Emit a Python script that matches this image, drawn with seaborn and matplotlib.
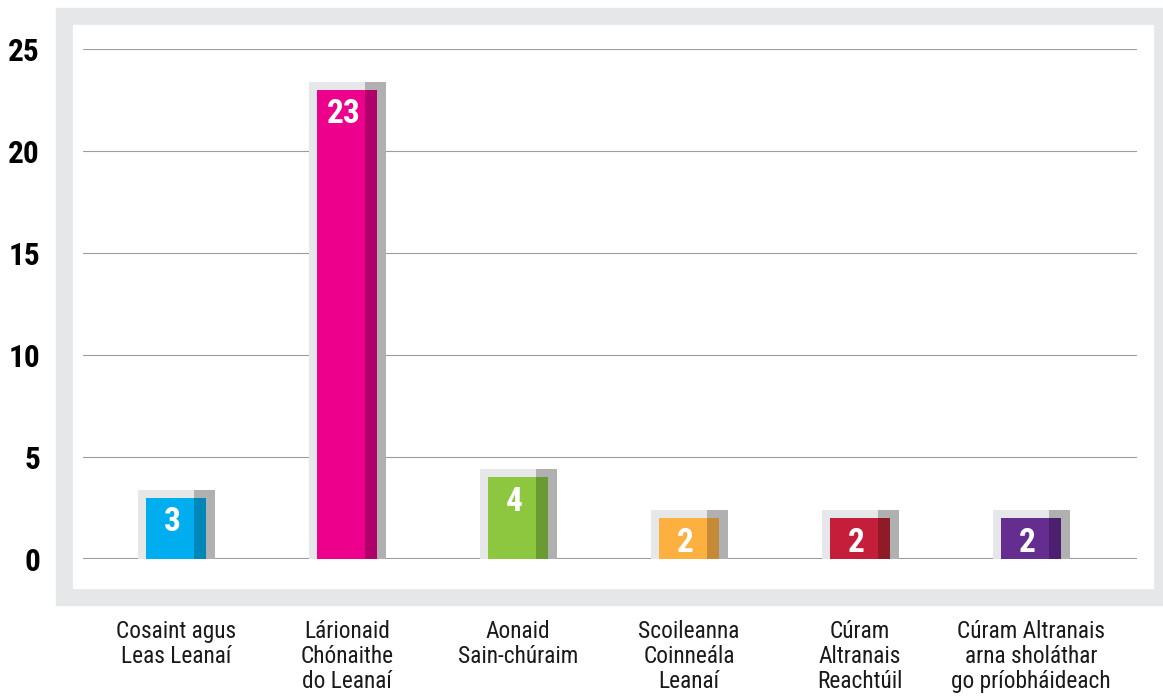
import numpy as np
import pandas as pd
import seaborn as sns
import matplotlib.pyplot as plt
from matplotlib import font_manager
from matplotlib.patches import Rectangle

# data
categories = ["Cosaint agus\nLeas Leanaí", "Lárionaid\nChónaithe\ndo Leanaí",
              "Aonaid\nSain-chúraim", "Scoileanna\nCoinneála\nLeanaí",
              "Cúram\nAltranais\nReachtúil",
              "Cúram Altranais\narna sholáthar\ngo príobháideach"]
values = [3, 23, 4, 2, 2, 2]
yticks = [0, 5, 10, 15, 20, 25]

# palette: front face and darker side strip
pal = ["#00AEEF", "#EC008C", "#8DC63F", "#FBB040", "#C41E3A", "#662D91"]
pal_dark = ["#0087BA", "#B0006A", "#6A9A32", "#C58A35", "#8F1A28", "#4C1F70"]
shadow_light = "#E6E7E8"
shadow_dark = "#B0B0B0"

sns.set_theme(style="white")
names = {f.name for f in font_manager.fontManager.ttflist}
font = "Roboto"
for cand in ["Liberation Sans Narrow", "Roboto Condensed", "DejaVu Sans Condensed"]:
    if cand in names:
        font = cand
        break
plt.rcParams["font.family"] = [font, "DejaVu Sans"]

df = pd.DataFrame({"cat": categories, "val": values})

fig = plt.figure(figsize=(11.63, 7), dpi=100)
W, H = 1163, 700
# grey frame with white panel (behind the axes)
fig.patches.append(Rectangle((56 / W, 1 - 605 / H), (1163 - 56) / W, (605 - 8) / H,
                             transform=fig.transFigure, color=shadow_light, zorder=-2))
fig.patches.append(Rectangle((73 / W, 1 - 588 / H), (1153 - 73) / W, (588 - 25) / H,
                             transform=fig.transFigure, color="white", zorder=-1))

ax = fig.add_axes([83 / W, 1 - 559 / H, 1054 / W, 510 / H])
ax.patch.set_alpha(0)

x = np.arange(len(values))
v = np.array(values, dtype=float)

# back shadow box
ax.bar(x - 0.222, v + 0.39, width=0.45, align="edge", color=shadow_light,
       linewidth=0, zorder=2)
ax.bar(x + 0.105, v + 0.39, width=0.123, align="edge", color=shadow_dark,
       linewidth=0, zorder=2)

# front face
sns.barplot(data=df, x="cat", y="val", hue="cat", palette=pal, legend=False,
            width=0.35, saturation=1, linewidth=0, ax=ax, zorder=3)
for p in ax.patches[len(values) * 2:]:
    p.set_zorder(3)
    p.set_linewidth(0)
ax.bar(x + 0.105, v, width=0.07, align="edge", color=pal_dark, linewidth=0, zorder=4)

for xi, val in zip(x, values):
    ax.text(xi - 0.02, val - 1.2, str(val), ha="center", va="center",
            color="white", fontsize=24, fontweight="bold", zorder=5)

for t in yticks:
    ax.axhline(t, color="#9C9C9C", lw=0.8 if t else 1.5, zorder=1)

ax.set_xlim(-0.544, 5.62)
ax.set_ylim(0, 25)
ax.set_yticks(yticks)
ax.set_yticklabels([str(t) for t in yticks], fontsize=22.5, fontweight="bold",
                   color="black")
ax.set_xlabel("")
ax.set_ylabel("")
ax.grid(False)
for s in ax.spines.values():
    s.set_visible(False)
ax.tick_params(axis="y", length=0, pad=31)
ax.tick_params(axis="x", length=0, pad=44)
for lab in ax.get_xticklabels():
    lab.set_fontsize(16.8)
    lab.set_color("#1a1a1a")
    lab.set_linespacing(1.12)

fig.savefig("out.png", dpi=100)
